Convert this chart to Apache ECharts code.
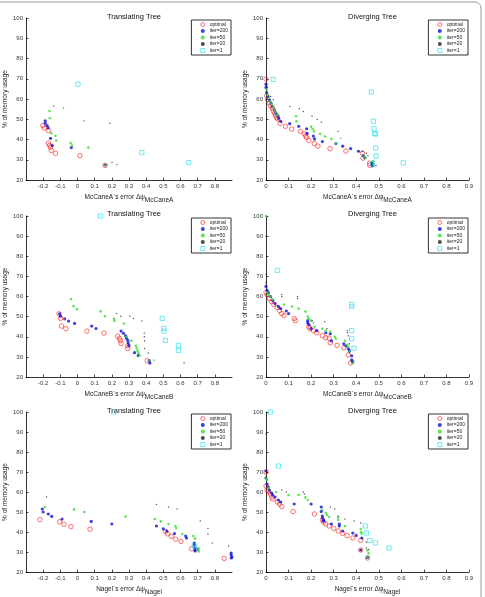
<!DOCTYPE html>
<html>
<head>
<meta charset="utf-8">
<script src="https://cdn.jsdelivr.net/npm/echarts@6/dist/echarts.min.js"></script>
<style>
  html, body { margin: 0; padding: 0; background: #fff; }
  #chart { width: 485px; height: 597px; }
</style>
</head>
<body>
<div id="chart"></div>
<script>
// series names (legend order)
const seriesNames = ['optimal', 'iter=200', 'iter=50', 'iter=20', 'iter=1']

// panel titles / axis labels
const panelTitles = ['Translating Tree', 'Diverging Tree', 'Translating Tree', 'Diverging Tree', 'Translating Tree', 'Diverging Tree']
const errorNames = ['McCaneA', 'McCaneA', 'McCaneB', 'McCaneB', 'Nagel', 'Nagel']

// Translating Tree, McCaneA
const taOpt = [[-0.202, 46.9], [-0.194, 45.7], [-0.169, 44.4], [-0.169, 38.2], [-0.163, 37.1], [-0.157, 36.2], [-0.153, 34.6], [-0.128, 33.2], [0.014, 32.0], [0.161, 27.2]]
const taI200 = [[-0.188, 49.2], [-0.188, 48.0], [-0.177, 46.9], [-0.171, 45.7], [-0.157, 40.6], [-0.147, 37.0], [-0.036, 36.0], [0.161, 27.4]]
const taI50 = [[-0.163, 54.1], [-0.161, 50.5], [-0.153, 43.1], [-0.128, 41.8], [-0.124, 39.5], [-0.040, 38.3], [-0.032, 37.0], [0.063, 36.0], [0.161, 27.4]]
const taI20 = [[-0.139, 56.6], [-0.081, 55.5], [0.038, 49.2], [0.188, 48.0], [0.201, 28.7], [0.230, 27.6], [0.161, 27.6]]
const taI1 = [[0.003, 67.3], [0.375, 33.5], [0.648, 28.6]]

// Diverging Tree, McCaneA
const daOpt = [[0, 69.8], [0.003, 61.6], [0.007, 59.6], [0.015, 58], [0.021, 56.6], [0.028, 55.5], [0.032, 54.1], [0.038, 53], [0.043, 51.8], [0.047, 50.8], [0.052, 50.3], [0.062, 48], [0.086, 46.5], [0.114, 45.2], [0.152, 44], [0.17, 42.8], [0.176, 41.8], [0.18, 41], [0.19, 39.5], [0.214, 38], [0.23, 36.7], [0.284, 35.5], [0.354, 34.3], [0.428, 33.2], [0.43, 30.8], [0.459, 28.3], [0.46, 27.3]]
const daI200 = [[0, 67.3], [0, 65.7], [0.003, 63.2], [0.009, 61.2], [0.015, 59.6], [0.022, 58], [0.028, 56.3], [0.037, 54.6], [0.044, 53], [0.053, 51.7], [0.056, 50.5], [0.065, 49], [0.105, 47.8], [0.145, 46.5], [0.18, 45.3], [0.182, 43], [0.21, 41.7], [0.215, 40.3], [0.25, 39], [0.31, 38], [0.34, 36.7], [0.375, 35.5], [0.41, 34.2], [0.432, 32], [0.438, 31], [0.47, 28.3], [0.47, 27.5], [0.472, 27]]
const daI50 = [[0.003, 64.5], [0.007, 62], [0.012, 60.4], [0.018, 58.8], [0.025, 57.6], [0.032, 56.3], [0.037, 54.6], [0.044, 53.3], [0.05, 52], [0.133, 51.5], [0.135, 49], [0.2, 46.3], [0.207, 45.2], [0.213, 44], [0.24, 42.8], [0.262, 41.5], [0.29, 40.3], [0.31, 38], [0.435, 32], [0.44, 31], [0.475, 29.3], [0.476, 27.8]]
const daI20 = [[0, 67.3], [0.006, 65.9], [0.021, 61.2], [0.032, 59.6], [0.106, 56.3], [0.148, 55.2], [0.165, 53.8], [0.204, 51.5], [0.227, 50], [0.245, 48.5], [0.32, 44], [0.332, 40.7], [0.428, 34.2], [0.446, 33.2], [0.452, 32], [0.488, 27.2]]
const daI1 = [[0.032, 69.7], [0.467, 63.5], [0.476, 49], [0.479, 45.3], [0.482, 43], [0.485, 42.7], [0.486, 35.7], [0.488, 31.8], [0.473, 28], [0.609, 28.5]]

// Translating Tree, McCaneB
const tbOpt = [[-0.108, 51.4], [-0.099, 49.1], [-0.093, 45.3], [-0.068, 44.0], [0.055, 42.8], [0.154, 41.8], [0.234, 40.3], [0.244, 39.2], [0.25, 38.0], [0.254, 36.7], [0.293, 35.5], [0.293, 34.2], [0.406, 28.1]]
const tbI200 = [[-0.104, 51.4], [-0.099, 50.2], [-0.075, 48.9], [-0.052, 47.8], [-0.017, 46.6], [0.083, 45.3], [0.108, 44.1], [0.254, 42.8], [0.268, 41.7], [0.28, 40.5], [0.285, 39.3], [0.293, 38.2], [0.295, 37.0], [0.299, 35.7], [0.332, 32.1], [0.354, 30.7], [0.418, 28.1], [0.422, 26.9]]
const tbI50 = [[-0.038, 58.7], [-0.023, 55.2], [-0.003, 53.7], [0.135, 52.6], [0.16, 50.2], [0.213, 48.9], [0.215, 47.9], [0.27, 46.6], [0.287, 40.0], [0.314, 38.0], [0.34, 35.5], [0.345, 34.4], [0.349, 33.2], [0.355, 32.1], [0.361, 30.7], [0.42, 28.3]]
const tbI20 = [[0.227, 51.6], [0.252, 50.2], [0.305, 50.2], [0.326, 49.1], [0.375, 47.8], [0.389, 41.8], [0.389, 40.0], [0.391, 38.0], [0.391, 34.2], [0.412, 31.9], [0.445, 28.4], [0.621, 27.1]]
const tbI1 = [[0.135, 100], [0.494, 49.1], [0.502, 44.1], [0.504, 42.8], [0.512, 38.2], [0.588, 35.7], [0.588, 33.2]]

// Diverging Tree, McCaneB
const dbOpt = [[0, 62], [0.005, 61], [0.015, 59], [0.025, 57.5], [0.035, 56], [0.05, 54.5], [0.06, 53], [0.07, 51.5], [0.08, 50.5], [0.125, 49], [0.13, 48], [0.19, 45], [0.195, 44], [0.21, 43], [0.225, 42], [0.25, 40.5], [0.265, 39.5], [0.28, 39.3], [0.285, 37], [0.315, 35.7], [0.345, 34.5], [0.365, 31], [0.375, 27]]
const dbI200 = [[0, 65], [0.005, 63], [0.01, 62], [0.02, 60], [0.03, 58], [0.04, 56.5], [0.055, 55], [0.065, 54], [0.09, 52.8], [0.1, 51.5], [0.185, 48], [0.185, 47], [0.19, 46], [0.2, 44], [0.225, 43], [0.265, 42], [0.285, 41.5], [0.29, 38], [0.345, 36.5], [0.355, 35.5], [0.365, 34], [0.37, 33], [0.38, 30.5], [0.38, 28.5], [0.385, 27.5]]
const dbI50 = [[0, 100], [0.005, 62], [0.01, 61], [0.02, 60], [0.03, 58.5], [0.08, 56], [0.115, 55], [0.145, 54], [0.175, 52.5], [0.185, 50], [0.19, 49], [0.2, 48], [0.215, 45], [0.25, 44], [0.265, 43], [0.285, 42.5], [0.305, 40], [0.31, 39], [0.35, 38], [0.36, 36], [0.365, 35], [0.37, 32.5], [0.385, 27]]
const dbI20 = [[0, 90], [0, 71], [0, 67], [0.07, 61], [0.07, 60], [0.14, 60], [0.14, 59], [0.205, 48], [0.21, 47], [0.26, 47.5], [0.27, 44], [0.36, 43], [0.36, 42], [0.365, 40.5], [0.37, 36.5], [0.37, 32], [0.38, 27.5]]
const dbI1 = [[0.05, 73], [0.38, 56], [0.38, 55], [0.38, 43], [0.38, 39], [0.39, 34.3]]

// Translating Tree, Nagel
const tnOpt = [[-0.219, 46.2], [-0.104, 45.1], [-0.079, 43.9], [-0.038, 42.7], [0.073, 41.4], [0.513, 40.2], [0.525, 39.1], [0.546, 37.8], [0.572, 36.4], [0.603, 35.3], [0.665, 31.6], [0.854, 26.8]]
const tnI200 = [[-0.205, 51.5], [-0.2, 50], [-0.17, 49], [-0.15, 47.8], [-0.09, 46.5], [0.08, 45.3], [0.2, 44], [0.46, 43], [0.5, 41.6], [0.52, 40.5], [0.565, 39.2], [0.63, 38], [0.635, 37], [0.68, 34.5], [0.68, 33.5], [0.685, 32], [0.685, 31], [0.685, 30.5], [0.895, 29.5], [0.895, 28.5], [0.9, 27.5], [0.895, 27]]
const tnI50 = [[-0.19, 52.5], [-0.02, 51.3], [0.04, 50], [0.28, 47.7], [0.45, 46.5], [0.485, 45.3], [0.53, 44], [0.57, 43], [0.575, 42], [0.61, 39], [0.675, 38], [0.685, 36.7], [0.705, 32], [0.705, 31], [0.705, 30.3]]
const tnI20 = [[-0.18, 57.5], [0.46, 53.8], [0.53, 52.5], [0.58, 51.5], [0.715, 45.5], [0.76, 41.7], [0.76, 39], [0.785, 34.5], [0.88, 33], [0.7, 31.5]]
const tnI1 = [[0.21, 100], [0.68, 33]]

// Diverging Tree, Nagel
const dnOpt = [[0, 70], [0, 63], [0.005, 61], [0.01, 60], [0.02, 59], [0.025, 57.5], [0.03, 56.5], [0.05, 55], [0.06, 54], [0.07, 52.7], [0.12, 50.2], [0.215, 49], [0.25, 46], [0.255, 45], [0.265, 44], [0.28, 43], [0.3, 41.8], [0.32, 40.5], [0.34, 39.3], [0.36, 38.2], [0.385, 37], [0.42, 35.8], [0.42, 31], [0.45, 27]]
const dnI200 = [[0, 70.5], [0, 67], [0.005, 64], [0.01, 62.5], [0.015, 61], [0.025, 59.5], [0.03, 58.5], [0.04, 57.5], [0.055, 56], [0.065, 55], [0.125, 54], [0.2, 54], [0.245, 52.5], [0.245, 50.3], [0.25, 48], [0.25, 47], [0.255, 46], [0.255, 45.5], [0.29, 44], [0.325, 44], [0.325, 43], [0.34, 40.5], [0.385, 39.5], [0.4, 38.3], [0.425, 37], [0.42, 31], [0.45, 27.3]]
const dnI50 = [[0, 67], [0.005, 66], [0.01, 62], [0.045, 60], [0.1, 58.5], [0.145, 58.5], [0.175, 57.3], [0.185, 56], [0.25, 51], [0.265, 49.5], [0.27, 48.5], [0.28, 47.5], [0.32, 47.3], [0.32, 46], [0.35, 43], [0.42, 41.5], [0.42, 40], [0.425, 39.3], [0.45, 30.8], [0.455, 29.3], [0.45, 27.5]]
const dnI20 = [[0, 89], [0, 70.5], [0, 67.5], [0.07, 61], [0.09, 60], [0.165, 60], [0.17, 59], [0.285, 52.5], [0.305, 51.5], [0.32, 48], [0.35, 46.5], [0.39, 45.5], [0.42, 44.5], [0.445, 35], [0.445, 32], [0.455, 31.3], [0.42, 31]]
const dnI1 = [[0.02, 100], [0.055, 73], [0.44, 43], [0.445, 39.5], [0.46, 35.8], [0.485, 34.5], [0.545, 32]]

const panelData = [
  [taOpt, taI200, taI50, taI20, taI1],
  [daOpt, daI200, daI50, daI20, daI1],
  [tbOpt, tbI200, tbI50, tbI20, tbI1],
  [dbOpt, dbI200, dbI50, dbI20, dbI1],
  [tnOpt, tnI200, tnI50, tnI20, tnI1],
  [dnOpt, dnI200, dnI50, dnI20, dnI1]
]

// layout
const rowTop = [18, 216, 412]
const rowBottom = [417, 220, 24]
const titleTop = [8, 205, 402]
const FONT = '"Liberation Sans", Arial, sans-serif'

// marker styles per series
const markerStyles = [
  { symbol: 'circle', symbolSize: 4.5, itemStyle: { color: 'rgba(0,0,0,0)', borderColor: '#ff2020', borderWidth: 0.8 } },
  { symbol: 'circle', symbolSize: 3.2, itemStyle: { color: '#1010d8' } },
  { symbol: 'circle', symbolSize: 2.6, itemStyle: { color: '#30e030' } },
  { symbol: 'circle', symbolSize: 1.4, itemStyle: { color: '#222' } },
  { symbol: 'rect', symbolSize: 4.2, itemStyle: { color: 'rgba(0,0,0,0)', borderColor: '#20e0ee', borderWidth: 0.8 } }
]
const legendIconSize = [4, 3, 2.6, 1.6, 4]

const tickFmt = (v) => String(Math.round(v * 10) / 10)

function buildOption() {
  const option = {
    backgroundColor: '#fff',
    animation: false,
    textStyle: { fontFamily: FONT },
    title: [],
    legend: [],
    grid: [],
    xAxis: [],
    yAxis: [],
    series: [],
    graphic: [{
      type: 'rect',
      shape: { x: -10, y: 2, width: 491, height: 620, r: 6 },
      style: { fill: 'none', stroke: '#9a9a9a', lineWidth: 1 },
      silent: true
    }]
  }

  panelData.forEach((sets, i) => {
    const row = Math.floor(i / 2)
    const isLeft = i % 2 === 0
    const left = isLeft ? 26 : 266
    const right = isLeft ? 253 : 16
    const plotRight = 485 - right

    option.grid.push({ left, right, top: rowTop[row], bottom: rowBottom[row] })

    option.title.push({
      text: panelTitles[i],
      left: (left + plotRight) / 2,
      top: titleTop[row],
      textAlign: 'center',
      textStyle: { fontSize: 7.5, fontWeight: 'normal', color: '#111', fontFamily: FONT }
    })

    option.legend.push({
      data: seriesNames.map((n, k) => ({
        name: n,
        icon: markerStyles[k].symbol,
        itemStyle: markerStyles[k].itemStyle
      })),
      orient: 'vertical',
      right: right + 1,
      top: rowTop[row] + 2,
      padding: [2, 3, 2, 9],
      itemGap: 1.5,
      itemWidth: 4,
      itemHeight: 4,
      borderColor: '#000',
      borderWidth: 0.8,
      backgroundColor: '#fff',
      textStyle: { fontSize: 5, color: '#222', fontFamily: FONT, padding: [0, 0, 0, 0] }
    })

    option.xAxis.push({
      type: 'value',
      gridIndex: i,
      min: isLeft ? -0.3 : 0,
      max: 0.9,
      interval: 0.1,
      splitLine: { show: false },
      axisLine: { onZero: false, lineStyle: { color: '#000', width: 0.8 } },
      axisTick: { inside: true, length: 2.5, lineStyle: { color: '#000', width: 0.7 } },
      axisLabel: {
        fontSize: 6, color: '#333', margin: 3, fontFamily: FONT,
        showMinLabel: !isLeft, showMaxLabel: !isLeft,
        formatter: tickFmt
      },
      name: '{m|' + errorNames[i] + '´s error Δψ}{s|' + errorNames[i] + '}',
      nameLocation: 'middle',
      nameGap: 10,
      nameTextStyle: {
        color: '#222',
        fontFamily: FONT,
        rich: {
          m: { fontSize: 6.5, color: '#222', fontFamily: FONT },
          s: { fontSize: 6.5, color: '#222', fontFamily: FONT, padding: [7, 0, 0, 0] }
        }
      }
    })

    option.yAxis.push({
      type: 'value',
      gridIndex: i,
      min: 20,
      max: 100,
      interval: 10,
      splitLine: { show: false },
      axisLine: { onZero: false, lineStyle: { color: '#000', width: 0.8 } },
      axisTick: { inside: true, length: 2.5, lineStyle: { color: '#000', width: 0.7 } },
      axisLabel: { fontSize: 6, color: '#333', margin: 3, fontFamily: FONT },
      name: '% of memory usage',
      nameLocation: 'middle',
      nameGap: 13,
      nameTextStyle: { fontSize: 6.5, color: '#222', fontFamily: FONT }
    })

    sets.forEach((pts, k) => {
      option.series.push({
        name: seriesNames[k],
        type: 'scatter',
        xAxisIndex: i,
        yAxisIndex: i,
        data: pts,
        symbol: markerStyles[k].symbol,
        symbolSize: markerStyles[k].symbolSize,
        itemStyle: markerStyles[k].itemStyle,
        emphasis: { disabled: true },
        z: 2 + k
      })
    })
  })

  return option
}

const chart = echarts.init(document.getElementById('chart'), null, { renderer: 'canvas' })
chart.setOption(buildOption())
</script>
</body>
</html>
